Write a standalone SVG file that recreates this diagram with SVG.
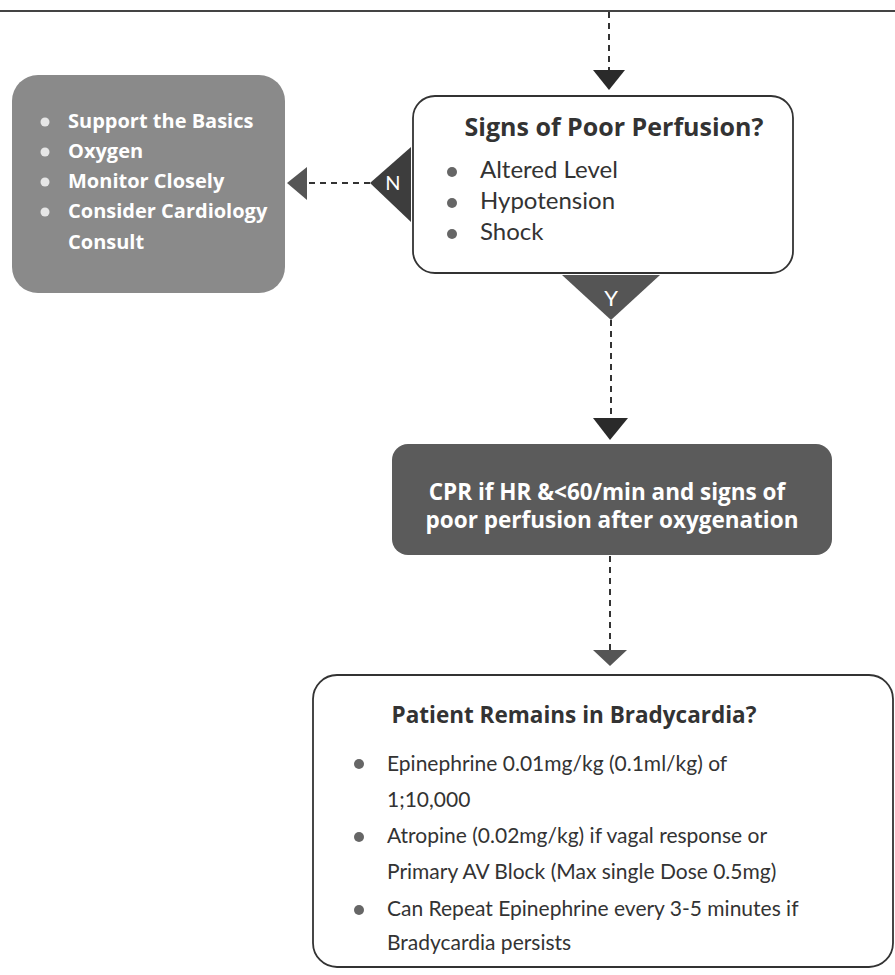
<svg xmlns="http://www.w3.org/2000/svg" width="895" height="975" viewBox="0 0 895 975">
<style>
.reg{font-family:Lato,"Open Sans","Liberation Sans",sans-serif;}
.bld{font-family:"Open Sans","Noto Sans","Liberation Sans",sans-serif;font-weight:bold;}
.dash{stroke:#333;stroke-width:2;stroke-dasharray:6 5;fill:none;}
.head{fill:#2a2a2a;}
.wb{fill:#fff;font-size:20px;}
.dk{fill:#333;}
.bul{fill:#666;}
.wbul{fill:#e6e6e6;}
</style>
<rect width="895" height="975" fill="#fff"/>
<line x1="0" y1="11" x2="895" y2="11" stroke="#444" stroke-width="2"/>

<g id="connectors">
  <line class="dash" x1="609" y1="12" x2="609" y2="70"/>
  <polygon class="head" points="593,70 625,70 609,90"/>
  <line class="dash" x1="370" y1="183" x2="307" y2="183"/>
  <polygon points="307,167 307,200 287,183" fill="#555"/>
  <line class="dash" x1="611" y1="320" x2="611" y2="418"/>
  <polygon class="head" points="593,418 628,418 610,440"/>
  <line class="dash" x1="610" y1="556" x2="610" y2="650"/>
  <polygon points="593,650 627,650 610,666" fill="#555"/>
</g>

<g id="node-support">
  <rect x="12" y="75" width="273" height="218" rx="26" fill="#8a8a8a"/>
  <circle class="wbul" cx="45" cy="122" r="4.5"/>
  <text class="bld wb" x="68" y="128">Support the Basics</text>
  <circle class="wbul" cx="45" cy="152" r="4.5"/>
  <text class="bld wb" x="68" y="158">Oxygen</text>
  <circle class="wbul" cx="45" cy="182" r="4.5"/>
  <text class="bld wb" x="68" y="188">Monitor Closely</text>
  <circle class="wbul" cx="45" cy="212" r="4.5"/>
  <text class="bld wb" x="68" y="218">Consider Cardiology</text>
  <text class="bld wb" x="68" y="249">Consult</text>
</g>

<g id="node-perfusion">
  <rect x="413" y="96" width="380" height="177" rx="22" fill="#fff" stroke="#333" stroke-width="1.8"/>
  <text class="bld dk" x="614" y="136" font-size="25" text-anchor="middle">Signs of Poor Perfusion?</text>
  <circle class="bul" cx="452" cy="172" r="5"/>
  <text class="reg dk" x="480" y="178" font-size="24">Altered Level</text>
  <circle class="bul" cx="452" cy="203" r="5"/>
  <text class="reg dk" x="480" y="209" font-size="24">Hypotension</text>
  <circle class="bul" cx="452" cy="234" r="5"/>
  <text class="reg dk" x="480" y="240" font-size="24">Shock</text>
</g>

<g id="label-N">
  <polygon points="370,183 411,147 411,222" fill="#3d3d3d"/>
  <text class="reg" x="393" y="190" fill="#fff" font-size="20" text-anchor="middle">N</text>
</g>

<g id="label-Y">
  <polygon points="562,275 660,275 611,320" fill="#555"/>
  <text class="reg" x="611" y="306" fill="#fff" font-size="22" text-anchor="middle">Y</text>
</g>

<g id="node-cpr">
  <rect x="392" y="444" width="440" height="111" rx="16" fill="#5b5b5b"/>
  <text class="bld" x="607" y="500" fill="#fff" font-size="22.5" text-anchor="middle">CPR if HR &amp;&lt;60/min and signs of</text>
  <text class="bld" x="612" y="528" fill="#fff" font-size="22.5" text-anchor="middle">poor perfusion after oxygenation</text>
</g>

<g id="node-bradycardia">
  <rect x="313" y="675" width="580" height="292" rx="24" fill="#fff" stroke="#333" stroke-width="1.8"/>
  <text class="bld dk" x="574" y="723" font-size="22.5" text-anchor="middle">Patient Remains in Bradycardia?</text>
  <circle class="bul" cx="359" cy="764" r="5"/>
  <text class="reg dk" x="387" y="771" font-size="21">Epinephrine 0.01mg/kg (0.1ml/kg) of</text>
  <text class="reg dk" x="387" y="807" font-size="21">1;10,000</text>
  <circle class="bul" cx="359" cy="837" r="5"/>
  <text class="reg dk" x="387" y="843" font-size="21">Atropine (0.02mg/kg) if vagal response or</text>
  <text class="reg dk" x="387" y="879" font-size="21">Primary AV Block (Max single Dose 0.5mg)</text>
  <circle class="bul" cx="359" cy="910" r="5"/>
  <text class="reg dk" x="387" y="916" font-size="21">Can Repeat Epinephrine every 3-5 minutes if</text>
  <text class="reg dk" x="387" y="950" font-size="21">Bradycardia persists</text>
</g>
</svg>
